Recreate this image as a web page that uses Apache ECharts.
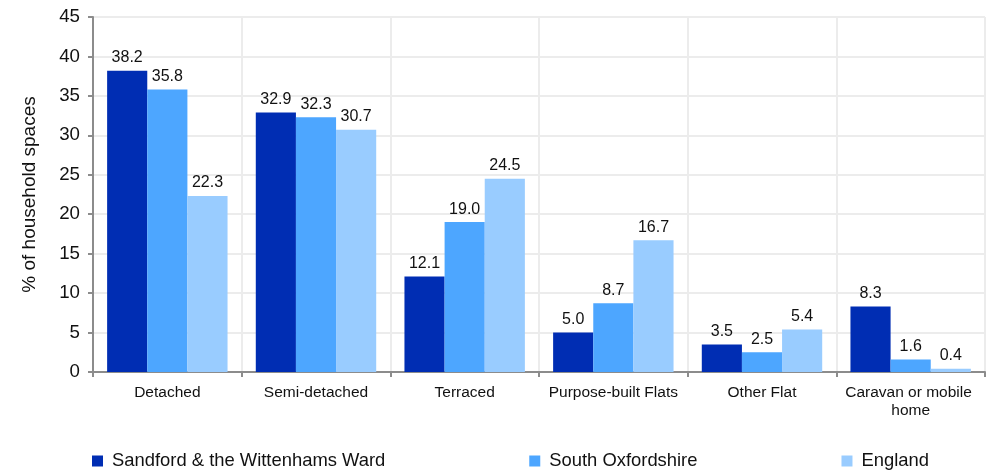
<!DOCTYPE html>
<html>
<head>
<meta charset="utf-8">
<script src="https://cdn.jsdelivr.net/npm/echarts@6/dist/echarts.min.js"></script>
<style>html,body{margin:0;padding:0;background:#fff}#c{width:988px;height:472px}</style>
</head>
<body>
<div id="c"></div>
<script>
const categories = ["Detached", "Semi-detached", "Terraced", "Purpose-built Flats", "Other Flat", "Caravan or mobile home"];
const seriesNames = ["Sandford & the Wittenhams Ward", "South Oxfordshire", "England"];
const wardValues = [38.2, 32.9, 12.1, 5.0, 3.5, 8.3];
const southOxValues = [35.8, 32.3, 19.0, 8.7, 2.5, 1.6];
const englandValues = [22.3, 30.7, 24.5, 16.7, 5.4, 0.4];
const colors = ["#002db3", "#4da6ff", "#99ccff"];
const yTicks = { min: 0, max: 45, interval: 5 };

const font = "Liberation Sans, Arial, sans-serif";
const chart = echarts.init(document.getElementById('c'), null, { renderer: 'canvas' });
const mk = (name, data, color) => ({
  name, type: 'bar', data, barGap: '0%', barCategoryGap: '19%',
  itemStyle: { color },
  label: { show: true, position: 'top', distance: 5, formatter: p => p.value.toFixed(1),
    fontFamily: font, fontSize: 16, color: '#111' }
});
chart.setOption({
  animation: false,
  textStyle: { fontFamily: font },
  grid: { left: 93, right: 3, top: 17, bottom: 100, containLabel: false },
  legend: {
    top: 452, left: 92, itemGap: 144, itemWidth: 11, itemHeight: 11,
    icon: 'rect', padding: 0,
    textStyle: { fontFamily: font, fontSize: 18.4, color: '#111', padding: [0, 0, 0, 4] },
    data: seriesNames
  },
  xAxis: {
    type: 'category', data: categories,
    axisLine: { lineStyle: { color: '#8c8c8c', width: 2 } },
    axisTick: { show: true, alignWithLabel: false, length: 5, lineStyle: { color: '#8c8c8c', width: 2 } },
    splitLine: { show: true, lineStyle: { color: '#ececec', width: 2 } },
    axisLabel: { fontFamily: font, fontSize: 15.5, color: '#111', margin: 12, width: 135, overflow: 'break', lineHeight: 18, interval: 0 }
  },
  yAxis: {
    type: 'value', min: yTicks.min, max: yTicks.max, interval: yTicks.interval,
    name: '% of household spaces', nameLocation: 'middle', nameGap: 54,
    nameTextStyle: { fontFamily: font, fontSize: 19, color: '#111' },
    axisLine: { show: true, lineStyle: { color: '#8c8c8c', width: 2 } },
    axisTick: { show: true, length: 5, lineStyle: { color: '#8c8c8c', width: 2 } },
    splitLine: { show: true, lineStyle: { color: '#ececec', width: 2 } },
    axisLabel: { fontFamily: font, fontSize: 18.7, color: '#111', margin: 13 }
  },
  series: [
    mk(seriesNames[0], wardValues, colors[0]),
    mk(seriesNames[1], southOxValues, colors[1]),
    mk(seriesNames[2], englandValues, colors[2])
  ]
});
</script>
</body>
</html>
